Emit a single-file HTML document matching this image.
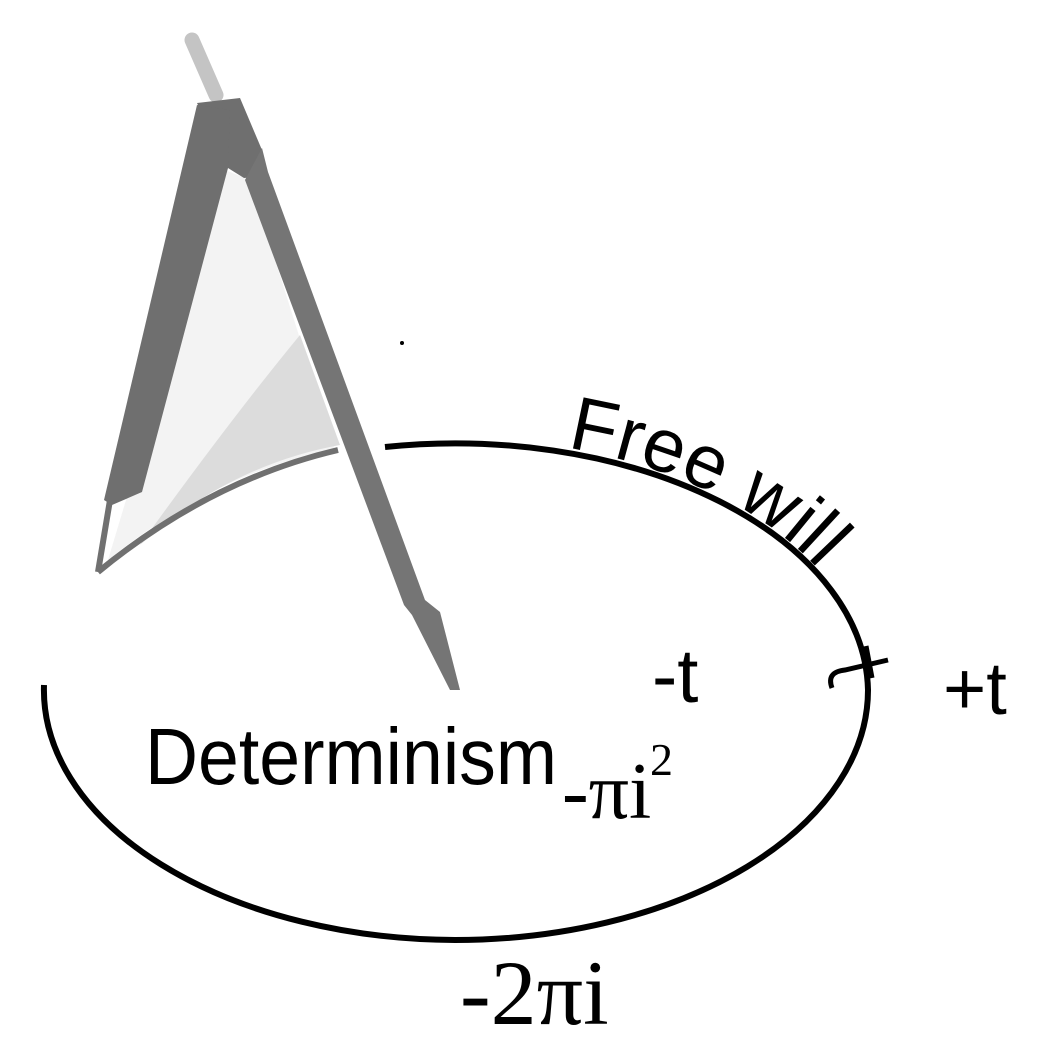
<!DOCTYPE html>
<html><head><meta charset="utf-8"><style>
html,body{margin:0;padding:0;background:#fff;}
svg{display:block;}
</style></head><body>
<svg width="1060" height="1057" viewBox="0 0 1060 1057" xmlns="http://www.w3.org/2000/svg">
<defs>
<path id="fw" d="M 385 444 A 411 248 0 0 1 866 690"/>
</defs>
<rect width="1060" height="1057" fill="#fff"/>
<path d="M 44 685 A 413 250 0 0 0 455 940 A 413 250 0 0 0 868 690 A 413 250 0 0 0 385 447" fill="none" stroke="#000" stroke-width="6"/>
<path d="M 108 560 L 225 170 L 250 180 L 335 450 Q 220 470 108 560 Z" fill="#f3f3f3"/>
<path d="M 140 545 Q 230 420 300 335 L 340 445 Q 230 465 140 545 Z" fill="#dcdcdc"/>
<line x1="192" y1="40" x2="216" y2="95" stroke="#c4c4c4" stroke-width="15" stroke-linecap="round"/>
<path d="M 197 103 L 240 98 L 262 150 L 266 176 L 244 178 L 228 168 Z" fill="#6f6f6f"/>
<path d="M 197 105 L 230 110 L 228 168 L 142 492 L 112 505 L 104 500 Z" fill="#6f6f6f"/>
<path d="M 262 148 L 268 172 L 425 600 L 440 612 L 460 690 L 450 690 L 412 615 L 404 605 L 245 180 Z" fill="#757575"/>
<path d="M 98 572 Q 210 480 338 450" fill="none" stroke="#707070" stroke-width="6"/>
<path d="M 98 572 L 110 500" stroke="#707070" stroke-width="6"/>
<circle cx="402" cy="343" r="2" fill="#000"/>
<path d="M 832 688 Q 826 672 845 670 L 888 660 M 866 646 L 872 678" fill="none" stroke="#000" stroke-width="5"/>
<text font-family="Liberation Sans, sans-serif" font-size="76" fill="#000" dy="-2"><textPath href="#fw" startOffset="182">Free will</textPath></text>
<text x="652" y="702" font-family="Liberation Sans, sans-serif" font-size="76" fill="#000">-t</text>
<text x="943" y="714" font-family="Liberation Sans, sans-serif" font-size="74" fill="#000">+t</text>
<text x="145" y="784" font-family="Liberation Sans, sans-serif" font-size="80" textLength="412" lengthAdjust="spacingAndGlyphs" fill="#000">Determinism</text>
<text x="562" y="818" font-family="Liberation Serif, serif" font-size="80" fill="#000">-πi</text>
<text x="650" y="775" font-family="Liberation Serif, serif" font-size="46" fill="#000">2</text>
<text x="460" y="1024" font-family="Liberation Serif, serif" font-size="92" fill="#000">-2πi</text>
</svg>
</body></html>
